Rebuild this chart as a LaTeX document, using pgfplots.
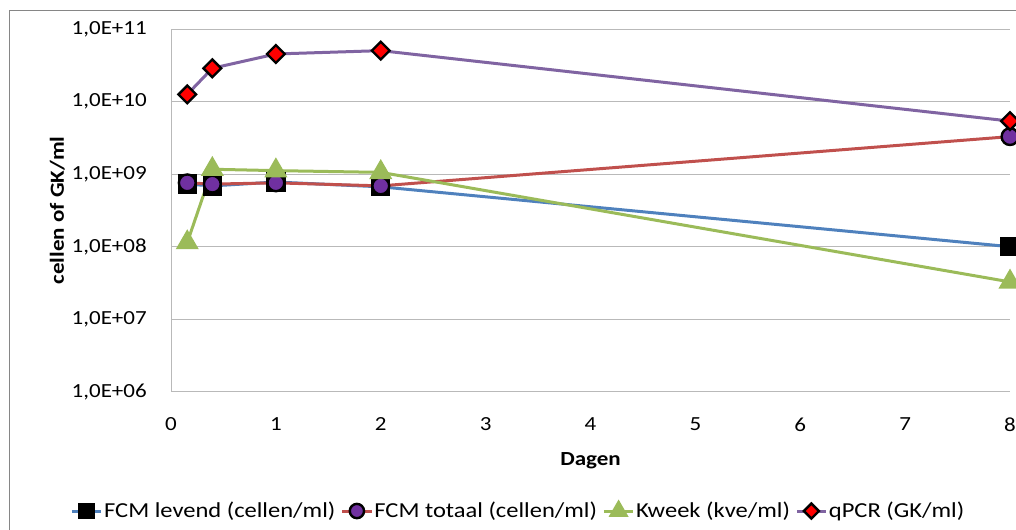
\documentclass[border=0pt]{standalone}
\usepackage{fontspec}
\setmainfont{Carlito}[FakeStretch=1.15]
\usepackage{pgfplots}
\pgfplotsset{compat=1.18}
\definecolor{cblue}{HTML}{4F81BD}
\definecolor{cred}{HTML}{C0504D}
\definecolor{cgreen}{HTML}{9BBB59}
\definecolor{cpurple}{HTML}{8064A2}
\definecolor{cpurpfill}{HTML}{7030A0}
\definecolor{gridgray}{RGB}{185,185,185}
\definecolor{framegray}{RGB}{134,134,134}
\newcommand{\fs}{\fontsize{15pt}{18pt}\selectfont}
\newcommand{\fl}{\fontsize{16pt}{19pt}\selectfont}
\begin{document}
\begin{tikzpicture}[x=0.75pt,y=0.75pt]
\useasboundingbox (0,0) rectangle (1016,530);
\draw[framegray, line width=0.75pt] (9.5,-40) -- (9.5,519.5) -- (1100,519.5);
\begin{axis}[
  at={(128.25pt,103.7pt)}, anchor=south west,
  scale only axis, width=629.25pt, height=271.9pt,
  xmin=0, xmax=8, ymode=log, ymin=1e6, ymax=1e11,
  clip=false,
  axis x line*=bottom, axis y line*=left,
  axis line style={-, draw=gridgray, line width=0.75pt},
  ymajorgrids, major grid style={gridgray, line width=0.75pt},
  major tick length=0pt, tick style={draw=none}, yminorticks=false, xminorticks=false,
  xtick={0,1,2,3,4,5,6,7,8},
  xticklabels={0,1,2,3,4,5,6,7,8},
  ytick={1e6,1e7,1e8,1e9,1e10,1e11},
  yticklabels={{1,0E+06},{1,0E+07},{1,0E+08},{1,0E+09},{1,0E+10},{1,0E+11}},
  yticklabel style={anchor=east, inner sep=0pt, xshift=-18pt, font=\fs},
  xticklabel style={anchor=north, inner sep=0pt, yshift=-19.5pt, font=\fs},
  xlabel={Dagen},
  xlabel style={at={(axis description cs:0.5,0)}, anchor=north, inner sep=0pt, yshift=-45.2pt, font=\bfseries\fs},
  ylabel={cellen of GK/ml},
  ylabel style={at={(axis description cs:-0.1263,0.5)}, anchor=south, inner sep=0pt, font=\bfseries\fs},
  legend columns=4,
  legend style={at={(axis description cs:0.4136,-0.329)}, anchor=center, draw=none, fill=none, font=\fl,
    nodes={inner xsep=1pt, inner ysep=1pt, anchor=west},
    /tikz/every odd column/.append style={column sep=0pt},
    /tikz/every even column/.append style={column sep=3pt}},
  legend image code/.code={\draw[#1, mark repeat=2, mark phase=2, every mark/.append style={scale=0.85}] plot coordinates {(0pt,0pt) (11pt,0pt) (22pt,0pt)};},
]
\addplot[color=cblue, line width=2.25pt, mark=square*, mark size=6.5pt,
  mark options={fill=black, draw=black, line width=1.5pt, solid}]
  coordinates {(0.155,7.3e8) (0.394,6.9e8) (1,7.8e8) (2,6.7e8) (8,1.0e8)};
\addlegendentry{FCM levend (cellen/ml)}
\addplot[color=cred, line width=2.25pt, mark=*, mark size=6.3pt,
  mark options={fill=cpurpfill, draw=black, line width=1.8pt, solid}]
  coordinates {(0.155,7.6e8) (0.394,7.3e8) (1,7.6e8) (2,6.9e8) (8,3.3e9)};
\addlegendentry{FCM totaal (cellen/ml)}
\addplot[color=cgreen, line width=2.25pt, mark=triangle*, mark size=9pt,
  mark options={fill=cgreen, draw=cgreen, line width=1pt, solid}]
  coordinates {(0.155,1.14e8) (0.394,1.17e9) (1,1.12e9) (2,1.06e9) (8,3.27e7)};
\addlegendentry{Kweek (kve/ml)}
\addplot[color=cpurple, line width=2.25pt, mark=square*, mark size=4.7pt,
  mark options={rotate=45, fill=red, draw=black, line width=1.8pt, solid}]
  coordinates {(0.155,1.26e10) (0.394,2.89e10) (1,4.55e10) (2,5.06e10) (8,5.4e9)};
\addlegendentry{qPCR (GK/ml)}
\end{axis}
\end{tikzpicture}
\end{document}
